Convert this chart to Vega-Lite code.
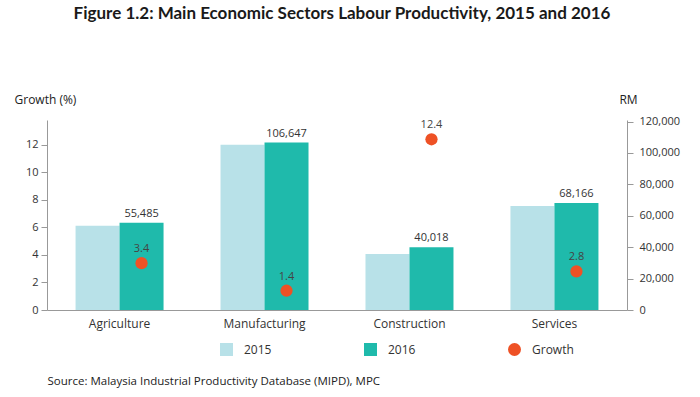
{
  "$schema": "https://vega.github.io/schema/vega-lite/v6.json",
  "width": 580,
  "height": 190,
  "autosize": "none",
  "padding": {"left": 47, "top": 120, "right": 73, "bottom": 87},
  "background": "white",
  "config": {"view": {"stroke": null}, "font": "Open Sans"},
  "title": {
    "text": "Figure 1.2: Main Economic Sectors Labour Productivity, 2015 and 2016",
    "font": "Lato", "fontSize": 17, "fontWeight": "bold", "color": "#1a1a1a",
    "anchor": "middle", "frame": "group", "offset": 70, "dx": 5
  },
  "datasets": {
    "prod": [
      {"sector": "Agriculture", "series": "2015", "rm": 53660},
      {"sector": "Agriculture", "series": "2016", "rm": 55485},
      {"sector": "Manufacturing", "series": "2015", "rm": 105174},
      {"sector": "Manufacturing", "series": "2016", "rm": 106647},
      {"sector": "Construction", "series": "2015", "rm": 35603},
      {"sector": "Construction", "series": "2016", "rm": 40018},
      {"sector": "Services", "series": "2015", "rm": 66309},
      {"sector": "Services", "series": "2016", "rm": 68166}
    ],
    "growth": [
      {"sector": "Agriculture", "yr": "2016", "series": "Growth", "growth": 3.4},
      {"sector": "Manufacturing", "yr": "2016", "series": "Growth", "growth": 1.4},
      {"sector": "Construction", "yr": "2016", "series": "Growth", "growth": 12.4},
      {"sector": "Services", "yr": "2016", "series": "Growth", "growth": 2.8}
    ]
  },
  "layer": [
    {
      "data": {"name": "prod"},
      "layer": [
        {
          "mark": {"type": "bar"},
          "encoding": {
            "x": {
              "field": "sector", "type": "nominal",
              "sort": ["Agriculture", "Manufacturing", "Construction", "Services"],
              "scale": {"paddingInner": 0.393, "paddingOuter": 0.197},
              "axis": {
                "ticks": false, "domainColor": "#999", "labelAngle": 0,
                "labelFontSize": 12, "labelColor": "#333", "labelPadding": 8,
                "title": "Source: Malaysia Industrial Productivity Database (MIPD), MPC",
                "titleAnchor": "start", "titleAlign": "left", "titleX": 0, "titleY": 71,
                "titleBaseline": "middle",
                "titleFontWeight": "normal", "titleFontSize": 11.5, "titleColor": "#222"
              }
            },
            "xOffset": {"field": "series", "type": "nominal", "scale": {"domain": ["2015", "2016"]}},
            "y": {
              "field": "rm", "type": "quantitative",
              "scale": {"domain": [0, 121000], "nice": false},
              "axis": {
                "orient": "right", "values": [0, 20000, 40000, 60000, 80000, 100000, 120000],
                "format": ",d", "grid": false, "domainColor": "#999", "tickColor": "#999",
                "tickSize": 6, "labelPadding": 6, "labelFontSize": 11, "labelColor": "#333",
                "title": "RM", "titleAngle": 0, "titleAlign": "center", "titleBaseline": "middle",
                "titleX": 1, "titleY": -21, "titleFontWeight": "normal", "titleFontSize": 12, "titleColor": "#222"
              }
            },
            "color": {
              "field": "series", "type": "nominal",
              "scale": {"domain": ["2015", "2016", "Growth"], "range": ["#b8e1e8", "#1fbaab", "#ee5125"]},
              "legend": {
                "title": null, "orient": "none", "direction": "horizontal",
                "legendX": 173, "legendY": 223, "columns": 3, "gridAlign": "all",
                "columnPadding": 78, "symbolSize": 169, "symbolStrokeWidth": 0,
                "labelFontSize": 12, "labelColor": "#333", "labelOffset": 11,
                "encode": {
                  "symbols": {"update": {"shape": {"signal": "datum.label === 'Growth' ? 'circle' : 'square'"}}}
                }
              }
            }
          }
        },
        {
          "transform": [{"filter": "datum.series === '2016'"}],
          "mark": {"type": "text", "dy": -9, "fontSize": 11, "color": "#333"},
          "encoding": {
            "x": {
              "field": "sector", "type": "nominal",
              "sort": ["Agriculture", "Manufacturing", "Construction", "Services"],
              "axis": {
                "ticks": false, "domainColor": "#999", "labelAngle": 0,
                "labelFontSize": 12, "labelColor": "#333", "labelPadding": 8,
                "title": "Source: Malaysia Industrial Productivity Database (MIPD), MPC",
                "titleAnchor": "start", "titleAlign": "left", "titleX": 0, "titleY": 71,
                "titleBaseline": "middle",
                "titleFontWeight": "normal", "titleFontSize": 11.5, "titleColor": "#222"
              }
            },
            "xOffset": {"field": "series", "type": "nominal"},
            "y": {
              "field": "rm", "type": "quantitative",
              "axis": {
                "orient": "right", "values": [0, 20000, 40000, 60000, 80000, 100000, 120000],
                "format": ",d", "grid": false, "domainColor": "#999", "tickColor": "#999",
                "tickSize": 6, "labelPadding": 6, "labelFontSize": 11, "labelColor": "#333",
                "title": "RM", "titleAngle": 0, "titleAlign": "center", "titleBaseline": "middle",
                "titleX": 1, "titleY": -21, "titleFontWeight": "normal", "titleFontSize": 12, "titleColor": "#222"
              }
            },
            "text": {"field": "rm", "type": "quantitative", "format": ",d"}
          }
        }
      ]
    },
    {
      "data": {"name": "growth"},
      "layer": [
        {
          "mark": {"type": "point", "filled": true, "size": 150, "opacity": 1},
          "encoding": {
            "x": {
              "field": "sector", "type": "nominal",
              "sort": ["Agriculture", "Manufacturing", "Construction", "Services"],
              "axis": {
                "ticks": false, "domainColor": "#999", "labelAngle": 0,
                "labelFontSize": 12, "labelColor": "#333", "labelPadding": 8,
                "title": "Source: Malaysia Industrial Productivity Database (MIPD), MPC",
                "titleAnchor": "start", "titleAlign": "left", "titleX": 0, "titleY": 71,
                "titleBaseline": "middle",
                "titleFontWeight": "normal", "titleFontSize": 11.5, "titleColor": "#222"
              }
            },
            "xOffset": {"field": "yr", "type": "nominal"},
            "y": {
              "field": "growth", "type": "quantitative",
              "scale": {"domain": [0, 13.8], "nice": false},
              "axis": {
                "orient": "left", "values": [0, 2, 4, 6, 8, 10, 12], "grid": false,
                "domainColor": "#999", "tickColor": "#999", "tickSize": 6, "labelPadding": 3,
                "labelFontSize": 11, "labelColor": "#333",
                "title": "Growth (%)", "titleAngle": 0, "titleAlign": "left", "titleBaseline": "middle",
                "titleX": -33, "titleY": -21, "titleFontWeight": "normal", "titleFontSize": 12, "titleColor": "#222"
              }
            },
            "color": {"field": "series", "type": "nominal"}
          }
        },
        {
          "mark": {"type": "text", "dy": -14, "fontSize": 11, "color": "#444"},
          "encoding": {
            "x": {
              "field": "sector", "type": "nominal",
              "sort": ["Agriculture", "Manufacturing", "Construction", "Services"],
              "axis": {
                "ticks": false, "domainColor": "#999", "labelAngle": 0,
                "labelFontSize": 12, "labelColor": "#333", "labelPadding": 8,
                "title": "Source: Malaysia Industrial Productivity Database (MIPD), MPC",
                "titleAnchor": "start", "titleAlign": "left", "titleX": 0, "titleY": 71,
                "titleBaseline": "middle",
                "titleFontWeight": "normal", "titleFontSize": 11.5, "titleColor": "#222"
              }
            },
            "xOffset": {"field": "yr", "type": "nominal"},
            "y": {
              "field": "growth", "type": "quantitative",
              "axis": {
                "orient": "left", "values": [0, 2, 4, 6, 8, 10, 12], "grid": false,
                "domainColor": "#999", "tickColor": "#999", "tickSize": 6, "labelPadding": 3,
                "labelFontSize": 11, "labelColor": "#333",
                "title": "Growth (%)", "titleAngle": 0, "titleAlign": "left", "titleBaseline": "middle",
                "titleX": -33, "titleY": -21, "titleFontWeight": "normal", "titleFontSize": 12, "titleColor": "#222"
              }
            },
            "text": {"field": "growth", "type": "quantitative", "format": ".1f"}
          }
        }
      ]
    }
  ],
  "resolve": {"scale": {"y": "independent"}}
}
